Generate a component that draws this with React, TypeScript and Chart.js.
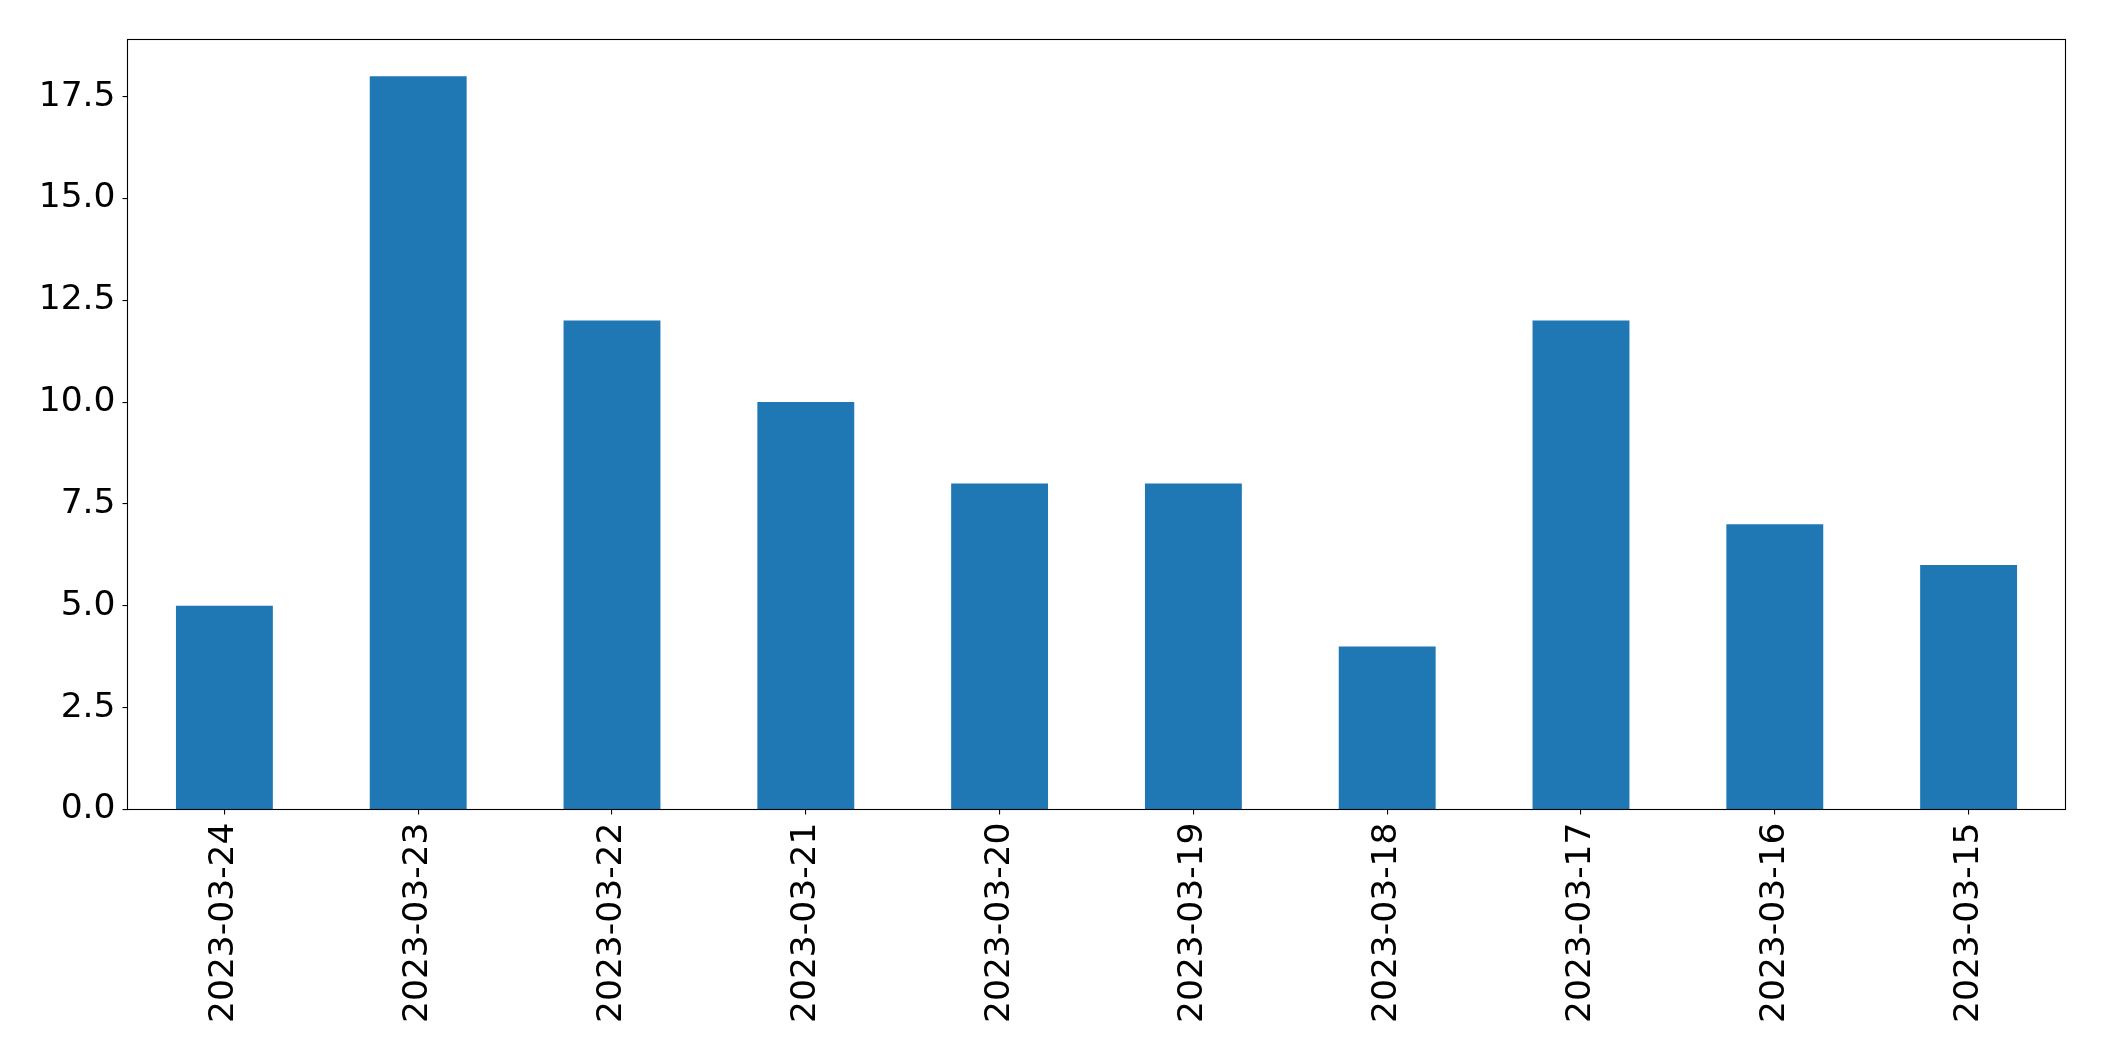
import React, { useEffect, useRef } from "react";
import { Chart, registerables } from "chart.js";

Chart.register(...registerables);

const categories = [
  "2023-03-24",
  "2023-03-23",
  "2023-03-22",
  "2023-03-21",
  "2023-03-20",
  "2023-03-19",
  "2023-03-18",
  "2023-03-17",
  "2023-03-16",
  "2023-03-15",
];
const values = [5, 18, 12, 10, 8, 8, 4, 12, 7, 6];
const yTicks = [0, 2.5, 5, 7.5, 10, 12.5, 15, 17.5];
const yMax = 18.9;

const framePlugin = {
  id: "frame",
  afterDraw(chart: any) {
    const { ctx, chartArea } = chart;
    ctx.save();
    ctx.strokeStyle = "#000";
    ctx.lineWidth = 1.1;
    ctx.strokeRect(
      chartArea.left,
      chartArea.top,
      chartArea.right - chartArea.left,
      chartArea.bottom - chartArea.top
    );
    ctx.restore();
  },
};

export default function App() {
  const ref = useRef<HTMLCanvasElement | null>(null);
  useEffect(() => {
    if (!ref.current) return;
    const font = { family: "'DejaVu Sans'", size: 34.5 };
    const chart = new Chart(ref.current, {
      type: "bar",
      data: {
        labels: categories,
        datasets: [
          {
            data: values,
            backgroundColor: "#1f77b4",
            borderWidth: 0,
            barPercentage: 0.5,
            categoryPercentage: 1.0,
          },
        ],
      },
      options: {
        responsive: false,
        animation: false,
        devicePixelRatio: 1,
        layout: { padding: { top: 39.5, right: 38.5, left: 0, bottom: 0 } },
        plugins: { legend: { display: false }, tooltip: { enabled: false } },
        scales: {
          x: {
            type: "category",
            offset: true,
            border: { display: false },
            grid: {
              display: true,
              drawOnChartArea: false,
              drawTicks: true,
              tickLength: 5,
              color: "#000",
              lineWidth: 1.1,
              offset: false,
            },
            ticks: {
              font,
              color: "#000",
              minRotation: 90,
              maxRotation: 90,
              autoSkip: false,
              padding: 8,
            },
            afterFit(scale: any) {
              scale.height = 251.5;
            },
          },
          y: {
            type: "linear",
            min: 0,
            max: yMax,
            border: { display: false },
            grid: {
              display: true,
              drawOnChartArea: false,
              drawTicks: true,
              tickLength: 5,
              color: "#000",
              lineWidth: 1.1,
            },
            ticks: {
              font,
              color: "#000",
              padding: 7,
              callback: (v: any) => Number(v).toFixed(1),
            },
            afterBuildTicks(scale: any) {
              scale.ticks = yTicks.map((v) => ({ value: v }));
            },
            afterFit(scale: any) {
              scale.width = 127.5;
            },
          },
        },
      },
      plugins: [framePlugin],
    });
    return () => chart.destroy();
  }, []);
  return (
    <div style={{ position: "fixed", left: 0, top: 0, width: 2104, height: 1061, background: "#fff" }}>
      <canvas ref={ref} width={2104} height={1061} style={{ display: "block" }} />
    </div>
  );
}
